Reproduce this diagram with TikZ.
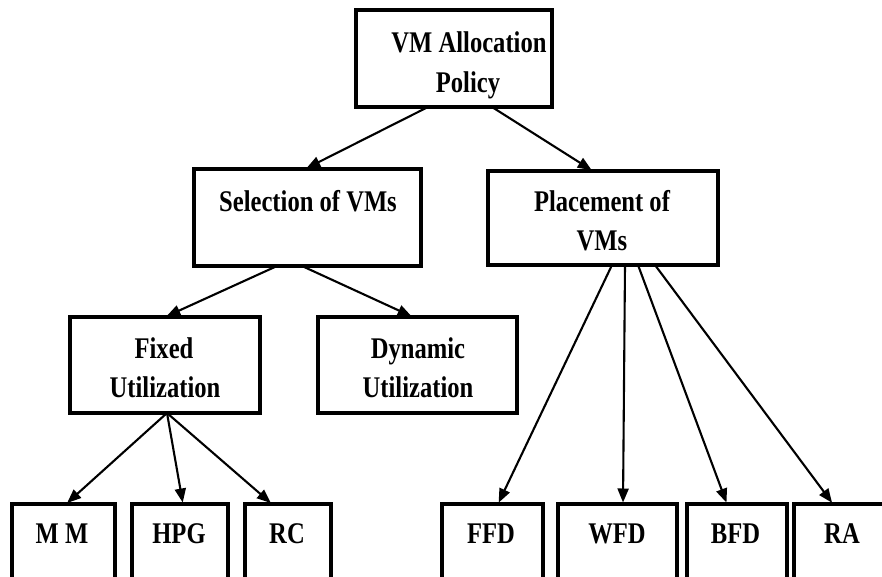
\documentclass[tikz,border=0pt]{standalone}
\usepackage{fontspec}
\setmainfont[FakeStretch=0.82]{Liberation Serif}
\usetikzlibrary{arrows.meta,calc}
\tikzset{
  box/.style={draw=black, line width=3.4pt, inner sep=0pt, outer sep=0pt, fill=white},
  lbl/.style={anchor=base, inner sep=0pt, font=\fontsize{30}{40}\selectfont\bfseries},
  arr/.style={line width=2.1pt, shorten >=1.5pt, -{Triangle[length=14pt,width=11pt]}},
}
\begin{document}
\begin{tikzpicture}[x=1pt, y=-1pt]
  \useasboundingbox (0,0) rectangle (882,576);
  \clip (0,0) rectangle (882,576);
  \fill[white] (0,0) rectangle (882,576);

  % boxes
  \node[box, minimum width=196pt, minimum height=97pt] (top) at (454,58.5) {};
  \node[box, minimum width=227pt, minimum height=97pt] (sel) at (307.5,217.5) {};
  \node[box, minimum width=230pt, minimum height=94pt] (plc) at (603,218) {};
  \node[box, minimum width=190pt, minimum height=96pt] (fix) at (165,365) {};
  \node[box, minimum width=199pt, minimum height=96pt] (dyn) at (417.5,365) {};
  \node[box, minimum width=103pt, minimum height=100pt] (mm)  at (63.5,554) {};
  \node[box, minimum width=96pt,  minimum height=100pt] (hpg) at (180,554) {};
  \node[box, minimum width=86pt,  minimum height=100pt] (rc)  at (288,554) {};
  \node[box, minimum width=101pt, minimum height=100pt] (ffd) at (492.5,554) {};
  \node[box, minimum width=119pt, minimum height=100pt] (wfd) at (617.5,554) {};
  \node[box, minimum width=100pt, minimum height=100pt] (bfd) at (737,554) {};
  \node[box, minimum width=110pt, minimum height=100pt] (ra)  at (849,554) {};

  % labels
  \node[lbl] (top-a) at (469,52) {VM Allocation};
  \node[lbl] (top-b) at (468,92) {Policy};
  \node[lbl] (sel-a) at (308,211) {Selection of VMs};
  \node[lbl] (plc-a) at (602,211) {Placement of};
  \node[lbl] (plc-b) at (602,250) {VMs};
  \node[lbl] (fix-a) at (164,358) {Fixed};
  \node[lbl] (fix-b) at (165,397) {Utilization};
  \node[lbl] (dyn-a) at (418,358) {Dynamic};
  \node[lbl] (dyn-b) at (418,397) {Utilization};
  \node[lbl] (mm-a)  at (62,543) {M M};
  \node[lbl] (hpg-a) at (179,543) {HPG};
  \node[lbl] (rc-a)  at (287,543) {RC};
  \node[lbl] (ffd-a) at (491,543) {FFD};
  \node[lbl] (wfd-a) at (617,543) {WFD};
  \node[lbl] (bfd-a) at (735.5,543) {BFD};
  \node[lbl] (ra-a)  at (842,543) {RA};

  % connectors
  \draw[arr] ($(top.south west)+(72,0)$)  -- ($(sel.north west)+(111,0)$);
  \draw[arr] ($(top.south west)+(136,0)$) -- ($(plc.north west)+(105,0)$);
  \draw[arr] ($(sel.south west)+(83,0)$)  -- ($(fix.north west)+(95,0)$);
  \draw[arr] ($(sel.south west)+(108,0)$) -- ($(dyn.north west)+(95,0)$);
  \draw[arr] ($(fix.south west)+(97,0)$)  -- ($(mm.north west)+(54,0)$);
  \draw[arr] ($(fix.south west)+(97,0)$)  -- ($(hpg.north west)+(51,0)$);
  \draw[arr] ($(fix.south west)+(97,0)$)  -- ($(rc.north west)+(27,0)$);
  \draw[arr] ($(plc.south west)+(124,0)$) -- ($(ffd.north west)+(56,0)$);
  \draw[arr] ($(plc.south west)+(137,0)$) -- ($(wfd.north west)+(65,0)$);
  \draw[arr] ($(plc.south west)+(150,0)$) -- ($(bfd.north west)+(40,0)$);
  \draw[arr] ($(plc.south west)+(167,0)$) -- ($(ra.north west)+(39,0)$);
\end{tikzpicture}
\end{document}
